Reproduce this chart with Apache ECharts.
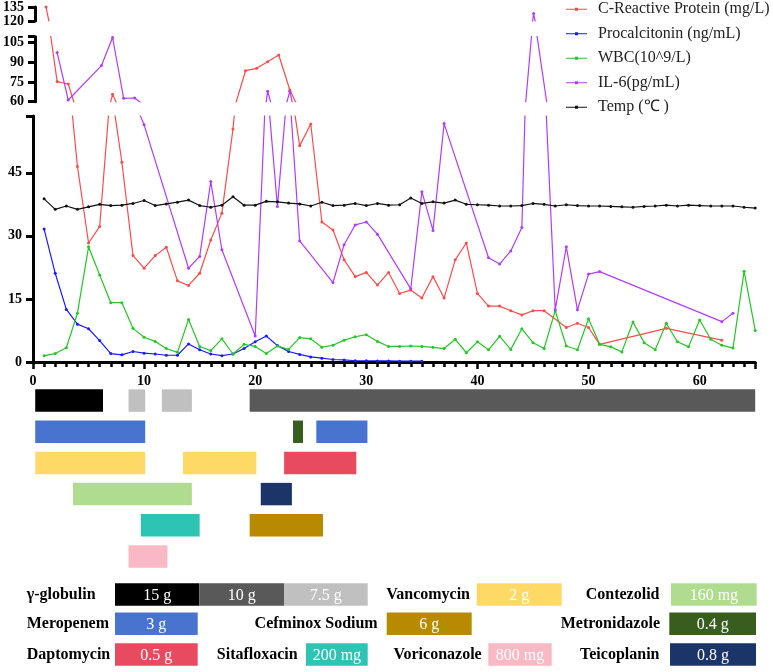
<!DOCTYPE html>
<html><head><meta charset="utf-8">
<script src="https://cdn.jsdelivr.net/npm/echarts@6/dist/echarts.min.js"></script>
<style>html,body{margin:0;padding:0;background:#fff}#main{width:773px;height:672px}</style>
</head><body><div id="main"></div>
<script>
// ---------------- data ----------------
const crpDays   = [1,2,3,4,5,6,7,8,9,10,11,12,13,14,15,16,17,18,19,20,21,22,23,24,25,26,27,28,29,30,31,32,33,34,35,36,37,38,39,40,41,42,43,44,45,46,48,49,50,51,57,62];
const crpValues = [135,75.3,73.5,46.5,28.3,32.2,65.6,47.5,25.3,22.3,25.3,27.3,19.3,18.2,21.1,29,35.4,55.4,83.6,85.4,90.5,95.6,68.9,51.4,56.6,33.3,31.4,24.3,20.3,21.3,18.3,21.3,16.3,17.1,15.2,20.3,15.2,24.3,28.3,16.3,13.3,13.3,12.2,11.2,12.2,12.2,8.2,9.2,8.2,4.2,8.0,5.2];

const pctDays   = [1,2,3,4,5,6,7,8,9,10,11,12,13,14,15,16,17,18,19,20,21,22,23,24,25,26,27,28,29,30,31,32,33,34,35];
const pctValues = [31.6,21.1,12.5,9.0,7.9,5.1,2.0,1.7,2.5,2.1,1.9,1.6,1.6,4.3,2.9,1.9,1.5,1.9,3.2,4.8,6.2,3.9,2.5,1.8,1.2,0.9,0.6,0.5,0.3,0.3,0.25,0.25,0.2,0.2,0.2];

const wbcDays   = [1,2,3,4,5,6,7,8,9,10,11,12,13,14,15,16,17,18,19,20,21,22,23,24,25,26,27,28,29,30,31,32,33,34,35,36,37,38,39,40,41,42,43,44,45,46,47,48,49,50,51,52,53,54,55,56,57,58,59,60,61,62,63,64,65];
const wbcValues = [1.5,2.0,3.4,11.6,27.4,20.7,14.1,14.1,8.0,5.9,4.9,3.2,2.3,10.1,3.7,2.7,5.5,1.9,4.2,3.7,2.0,3.8,3.0,5.8,5.5,3.5,4.0,5.2,6.0,6.5,4.9,3.7,3.7,3.8,3.7,3.5,3.2,5.4,2.2,4.8,2.9,6.1,3.0,7.9,4.6,3.2,12.2,3.8,2.9,10.3,4.2,3.6,2.4,9.5,4.6,2.9,9.2,4.8,3.6,10.0,5.4,4.0,3.3,21.6,7.5];

const il6Days   = [2,3,6,7,8,9,10,14,15,16,17,20,21,22,23,24,27,28,29,30,31,34,35,36,37,41,42,43,44,45,47,48,49,50,51,62,63];
const il6Values = [97.4,61.3,87.5,108.9,62.6,62.8,56.4,22.3,25.1,42.9,26.7,6.2,68,37,68,28.8,18.9,27.9,32.6,33.3,30.4,17.4,40.5,31.3,56.7,24.8,23.3,26.4,32.0,128,12.4,27.4,12.4,20.9,21.5,9.6,11.6];

const tempDays   = wbcDays;
const tempValues = [38.8,36.3,37.1,36.3,36.9,37.5,37.2,37.3,37.7,38.4,37.2,37.6,38.0,38.5,37.2,36.8,37.3,39.3,37.3,37.3,38.2,38.1,37.8,37.6,37.1,38.0,37.2,37.3,37.7,37.2,37.7,37.3,37.4,39.0,37.7,38.1,37.8,38.5,37.5,37.4,37.3,37.1,37.1,37.2,37.7,37.5,37.1,37.4,37.2,37.1,37.1,37.0,36.9,36.8,37.0,37.1,37.3,37.1,37.3,37.2,37.1,37.1,37.1,36.8,36.6];

const seriesNames = ['C-Reactive Protein (mg/L)','Procalcitonin (ng/mL)','WBC(10^9/L)','IL-6(pg/mL)','Temp (℃ )'];

const yTicksTop = [120,135];
const yTicksMid = [60,75,90,105];
const yTicksBottom = [0,15,30,45];
const xTicks = [0,10,20,30,40,50,60];

// treatment courses (days)
const courseDrug  = ['γ-globulin 15 g','γ-globulin 7.5 g','γ-globulin 7.5 g','γ-globulin 10 g','Meropenem','Metronidazole','Meropenem','Vancomycin','Vancomycin','Daptomycin','Contezolid','Teicoplanin','Sitafloxacin','Cefminox Sodium','Voriconazole'];
const courseStart = [0.2,8.6,11.6,19.5,0.2,23.4,25.5,0.2,13.5,22.6,3.6,20.5,9.7,19.5,8.6];
const courseEnd   = [6.3,10.1,14.3,65,10.1,24.3,30.1,10.1,20.1,29.1,14.3,23.3,15.0,26.1,12.1];
const courseRow   = [0,0,0,0,1,1,1,2,2,2,3,3,4,4,5];

// ---------------- styles ----------------
const drugColor = {
  'γ-globulin 15 g':'#000000','γ-globulin 10 g':'#595959','γ-globulin 7.5 g':'#c0c0c0',
  'Meropenem':'#4874cf','Metronidazole':'#375e1f','Vancomycin':'#ffd966','Daptomycin':'#e84a5f',
  'Contezolid':'#b0dc8f','Teicoplanin':'#1b3569','Sitafloxacin':'#2ec4b4','Cefminox Sodium':'#b88a00',
  'Voriconazole':'#f8b9c5'
};
const lineColors = ['#ff4a4a','#1a1aff','#22c922','#b23cfd','#111111'];
const SERIF = '"Times New Roman","Liberation Serif",serif';

const chart = echarts.init(document.getElementById('main'), null, {renderer:'canvas'});

const metricDays = [crpDays,pctDays,wbcDays,il6Days,tempDays];
const metricVals = [crpValues,pctValues,wbcValues,il6Values,tempValues];

const series = [];
for (let g = 0; g < 3; g++) {
  for (let m = 0; m < 5; m++) {
    series.push({
      type:'line', name:seriesNames[m], xAxisIndex:g, yAxisIndex:g,
      data: metricDays[m].map((d,i)=>[d, metricVals[m][i]]),
      symbol:'circle', symbolSize:3, clip:true,
      lineStyle:{width:1.2, color:lineColors[m]},
      itemStyle:{color:lineColors[m]},
      emphasis:{disabled:true}, animation:false
    });
  }
}
series.push({
  type:'custom', xAxisIndex:3, yAxisIndex:3,
  encode:{x:[0,1], y:2},
  data: courseDrug.map((d,i)=>[courseStart[i], courseEnd[i], courseRow[i], d]),
  renderItem:function(params, api){
    const row = api.value(2);
    const s = api.coord([api.value(0), row]);
    const e = api.coord([api.value(1), row]);
    const h = api.size([0,1])[1]*0.72;
    return {type:'rect', shape:{x:s[0], y:s[1]-h/2, width:e[0]-s[0], height:h},
            style:{fill:drugColor[courseDrug[params.dataIndex]]}};
  },
  animation:false
});

const axisBase = {
  axisLine:{show:true, lineStyle:{color:'#000', width:3}},
  axisTick:{show:true, length:7, lineStyle:{color:'#000', width:3}},
  splitLine:{show:false}
};
function yAx(g, min, max, ticks){
  return Object.assign({}, axisBase, {
    type:'value', gridIndex:g, min:min, max:max, interval:15,
    axisLabel:{margin:11, fontFamily:SERIF, fontWeight:'bold', fontSize:14, color:'#000',
      formatter:v => ticks.indexOf(v) >= 0 ? String(v) : ''}
  });
}
const hiddenX = g => ({type:'value', gridIndex:g, min:0, max:65, show:false});

const grids = [
  {left:33, right:17.8, top:6, height:15},
  {left:33, right:17.8, top:36.7, height:65},
  {left:33, right:17.8, top:116, height:246},
  {left:33, right:17.8, top:385, height:187}
];

// bottom legend (drug key)
const graphic = [];
function label(text, x, y, align){
  graphic.push({type:'text', x:x, y:y, silent:true,
    style:{text:text, font:'bold 16px '+SERIF, fill:'#000', align:align, verticalAlign:'middle', textAlign:align, textVerticalAlign:'middle'}});
}
function box(x1, x2, y, color, text){
  graphic.push({type:'rect', silent:true, shape:{x:x1, y:y-11.25, width:x2-x1, height:22.5}, style:{fill:color}});
  graphic.push({type:'text', x:(x1+x2)/2, y:y+1, silent:true,
    style:{text:text, font:'16px '+SERIF, fill:'#fff', align:'center', verticalAlign:'middle', textAlign:'center', textVerticalAlign:'middle'}});
}
const rA = 594.5, rB = 623.7, rC = 654.5;
label('γ-globulin', 26.7, rA, 'left');
box(115, 199.3, rA, drugColor['γ-globulin 15 g'], '15 g');
box(199.3, 284, rA, drugColor['γ-globulin 10 g'], '10 g');
box(284, 367.7, rA, drugColor['γ-globulin 7.5 g'], '7.5 g');
label('Vancomycin', 470, rA, 'right');
box(476.7, 561.7, rA, drugColor['Vancomycin'], '2 g');
label('Contezolid', 659.5, rA, 'right');
box(671, 756.7, rA, drugColor['Contezolid'], '160 mg');

label('Meropenem', 26.7, rB, 'left');
box(115, 197.7, rB, drugColor['Meropenem'], '3 g');
label('Cefminox Sodium', 377.7, rB, 'right');
box(386.7, 471.7, rB, drugColor['Cefminox Sodium'], '6 g');
label('Metronidazole', 660, rB, 'right');
box(669.3, 756, rB, drugColor['Metronidazole'], '0.4 g');

label('Daptomycin', 26.7, rC, 'left');
box(115, 197.7, rC, drugColor['Daptomycin'], '0.5 g');
label('Sitafloxacin', 297.7, rC, 'right');
box(306, 367.7, rC, drugColor['Sitafloxacin'], '200 mg');
label('Voriconazole', 481.7, rC, 'right');
box(488.3, 551.7, rC, drugColor['Voriconazole'], '800 mg');
label('Teicoplanin', 659.5, rC, 'right');
box(670, 756, rC, drugColor['Teicoplanin'], '0.8 g');

const option = {
  animation:false,
  backgroundColor:'#fff',
  grid:grids,
  legend:{
    data:seriesNames, orient:'vertical', left:566, top:-3, padding:0, itemGap:0,
    itemWidth:21, itemHeight:3,
    icon:'path://M0,1 L21,1 L21,2 L0,2 Z M9,0 L12,0 L12,3 L9,3 Z',
    textStyle:{fontFamily:SERIF, fontSize:16, color:'#222', lineHeight:24.5, padding:[0,0,0,6]},
    selectedMode:false
  },
  xAxis:[
    hiddenX(0), hiddenX(1),
    Object.assign({}, axisBase, {
      type:'value', gridIndex:2, min:0, max:65, interval:10,
      axisTick:{show:true, length:7, lineStyle:{color:'#000', width:2.5}},
      minorTick:{show:true, splitNumber:10, length:5, lineStyle:{color:'#000', width:2.5}},
      axisLabel:{margin:12, fontFamily:SERIF, fontWeight:'bold', fontSize:14, color:'#000',
        formatter:v => xTicks.indexOf(v) >= 0 ? String(v) : ''}
    }),
    hiddenX(3)
  ],
  yAxis:[
    yAx(0, 120, 135, yTicksTop),
    yAx(1, 60, 109.5, yTicksMid),
    yAx(2, 0, 58.5, yTicksBottom),
    {type:'category', gridIndex:3, data:[0,1,2,3,4,5], inverse:true, show:false}
  ],
  graphic:graphic,
  series:series
};
chart.setOption(option);
</script>
</body></html>
